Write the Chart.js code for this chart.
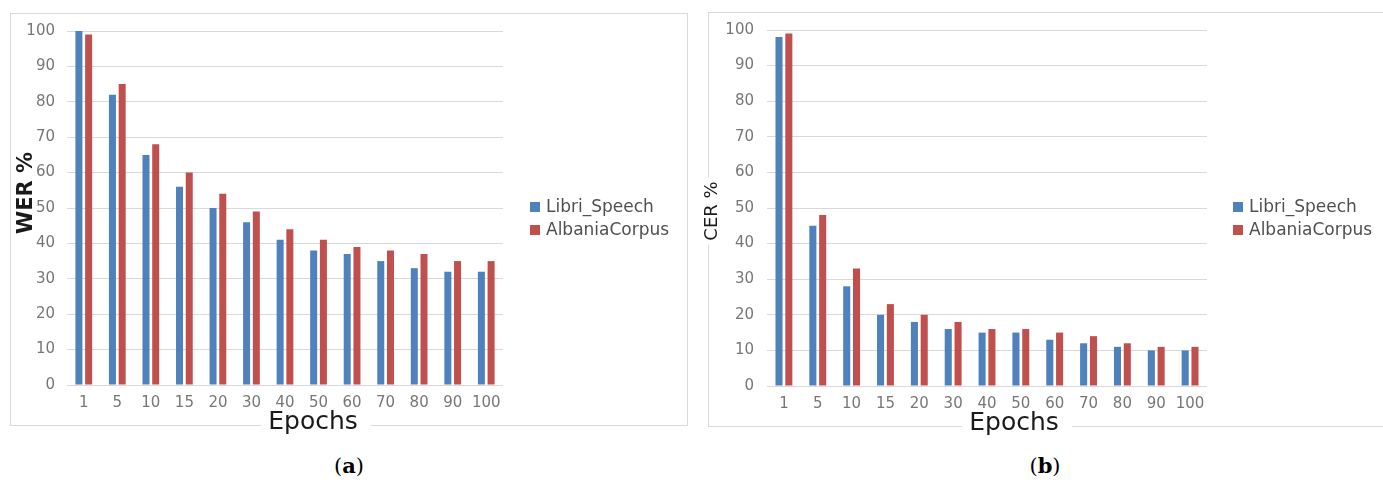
<!DOCTYPE html>
<html>
<head>
<meta charset="utf-8">
<script src="https://cdn.jsdelivr.net/npm/chart.js@4.4.1/dist/chart.umd.min.js"></script>
<style>
  html, body { margin: 0; padding: 0; background: #fff; }
  body { width: 1383px; height: 484px; position: relative; overflow: hidden; }
  canvas { position: absolute; top: 0; }
  #cA { left: 0; }
  #cB { left: 695px; }
  .cap { position: absolute; top: 454px; font: 21px "DejaVu Serif", serif; line-height: 24px; color: #000; transform: translateX(-50%); }
</style>
</head>
<body>
<canvas id="cA" width="700" height="440"></canvas>
<canvas id="cB" width="688" height="440"></canvas>
<div class="cap" style="left:349px">(<b>a</b>)</div>
<div class="cap" style="left:1045px">(<b>b</b>)</div>
<script>
const epochs = ['1', '5', '10', '15', '20', '30', '40', '50', '60', '70', '80', '90', '100'];
const seriesNames = ['Libri_Speech', 'AlbaniaCorpus'];
const werLibri   = [100, 82, 65, 56, 50, 46, 41, 38, 37, 35, 33, 32, 32];
const werAlbania = [99, 85, 68, 60, 54, 49, 44, 41, 39, 38, 37, 35, 35];
const cerLibri   = [98, 45, 28, 20, 18, 16, 15, 15, 13, 12, 11, 10, 10];
const cerAlbania = [99, 48, 33, 23, 20, 18, 16, 16, 15, 14, 12, 11, 11];
const yTicks = [0, 10, 20, 30, 40, 50, 60, 70, 80, 90, 100];

const colors = ['#4F81BD', '#C0504D'];
const FONT = '"DejaVu Sans", sans-serif';

// frame, axis titles and legend, drawn the office-chart way
const framePlugin = {
  id: 'frame',
  beforeDraw(chart, args, o) {
    const ctx = chart.ctx;
    ctx.save();
    ctx.fillStyle = '#fff';
    ctx.fillRect(0, 0, chart.width, chart.height);
    ctx.strokeStyle = '#d9d9d9';
    ctx.lineWidth = 1;
    const [x0, y0, x1, y1] = o.box;
    ctx.strokeRect(x0 + 0.5, y0 + 0.5, x1 - x0, y1 - y0);
    ctx.restore();
  },
  afterDraw(chart, args, o) {
    const ctx = chart.ctx, a = chart.chartArea;
    ctx.save();

    // x title (sits on the frame line)
    ctx.font = '25px ' + FONT;
    const w = ctx.measureText(o.xTitle).width;
    ctx.fillStyle = '#fff';
    ctx.fillRect(o.xt[0] - w / 2 - 7, o.xt[1] - 22, w + 20, 30);
    ctx.fillStyle = '#1a1a1a';
    ctx.textAlign = 'center';
    ctx.textBaseline = 'alphabetic';
    ctx.fillText(o.xTitle, o.xt[0], o.xt[1]);

    // y title
    ctx.translate(o.yt[0], o.yt[1]);
    ctx.rotate(-Math.PI / 2);
    ctx.font = o.yFont + ' ' + FONT;
    ctx.textBaseline = 'middle';
    if (o.yBg) {
      const wy = ctx.measureText(o.yTitle).width;
      ctx.fillStyle = '#fff';
      ctx.fillRect(-wy / 2 - 4, -11, wy + 8, 22);
    }
    ctx.fillStyle = '#1a1a1a';
    ctx.fillText(o.yTitle, 0, 0);
    ctx.setTransform(1, 0, 0, 1, 0, 0);

    // legend
    ctx.font = '17px ' + FONT;
    ctx.textAlign = 'left';
    ctx.textBaseline = 'middle';
    const lx = a.right + o.legDx;
    chart.data.datasets.forEach((ds, i) => {
      const ly = o.legY + i * 23;
      ctx.fillStyle = ds.backgroundColor;
      ctx.fillRect(lx, ly - 5, 10, 10);
      ctx.fillStyle = '#505050';
      ctx.fillText(ds.label, lx + 16, ly + 1);
    });
    ctx.restore();
  }
};

function makeChart(id, libri, albania, o) {
  return new Chart(document.getElementById(id), {
    type: 'bar',
    data: {
      labels: epochs,
      datasets: [
        { label: seriesNames[0], data: libri, backgroundColor: colors[0] },
        { label: seriesNames[1], data: albania, backgroundColor: colors[1] }
      ]
    },
    options: {
      responsive: false,
      animation: false,
      layout: { padding: { left: 0, top: o.top, right: o.right, bottom: 0 } },
      datasets: { bar: { categoryPercentage: 0.58, barPercentage: 0.72 } },
      plugins: { legend: { display: false }, tooltip: { enabled: false }, frame: o },
      scales: {
        x: {
          grid: { display: false, drawTicks: false },
          border: { display: false },
          ticks: { color: '#777', font: { family: FONT, size: 15 }, padding: 9, maxRotation: 0, autoSkip: false },
          afterFit: s => { s.height = o.xh; }
        },
        y: {
          min: 0, max: 100,
          grid: { color: '#d9d9d9', drawTicks: false },
          border: { display: false },
          ticks: { color: '#777', font: { family: FONT, size: 15 }, padding: o.tp },
          afterBuildTicks: s => { s.ticks = yTicks.map(v => ({ value: v })); },
          afterFit: s => { s.width = o.yw; }
        }
      }
    },
    plugins: [framePlugin]
  });
}

makeChart('cA', werLibri, werAlbania, {
  box: [10, 13, 687, 425], top: 31, right: 197, yw: 67, xh: 55, tp: 12,
  xTitle: 'Epochs', xt: [313, 429],
  yTitle: 'WER %', yt: [27, 193], yFont: 'bold 21px', yBg: false,
  legDx: 27, legY: 207
});

makeChart('cB', cerLibri, cerAlbania, {
  box: [13, 12, 700, 426], top: 30, right: 176, yw: 72, xh: 54, tp: 13,
  xTitle: 'Epochs', xt: [319, 430],
  yTitle: 'CER %', yt: [17, 211], yFont: '18px', yBg: true,
  legDx: 26, legY: 207
});
</script>
</body>
</html>
